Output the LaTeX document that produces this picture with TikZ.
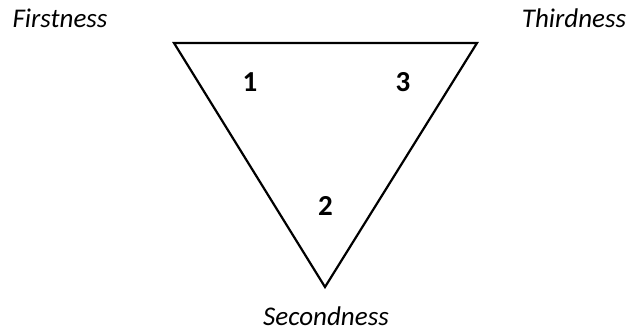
\documentclass[tikz,border=0pt]{standalone}
\usepackage{fontspec}
\setmainfont{Carlito}
\begin{document}
\begin{tikzpicture}[x=1pt,y=-1pt,
  lbl/.style={font=\fontsize{27}{32}\selectfont\itshape,inner sep=0pt,anchor=base},
  num/.style={font=\fontsize{29}{34}\selectfont\bfseries,inner sep=0pt,anchor=base}]
\useasboundingbox (0,0) rectangle (632,329);
\coordinate (A) at (174,43);
\coordinate (B) at (477,43);
\coordinate (C) at (325,287);
\draw[line width=2.2pt,line join=miter] (A) -- (B) -- (C) -- cycle;
\node[lbl] (first) at (60,28) {Firstness};
\node[lbl] (third) at (574,28) {Thirdness};
\node[lbl] (second) at (326,325) {Secondness};
\node[num] (n1) at (250,92) {1};
\node[num] (n3) at (403,92) {3};
\node[num] (n2) at (325.5,215) {2};
\end{tikzpicture}
\end{document}
